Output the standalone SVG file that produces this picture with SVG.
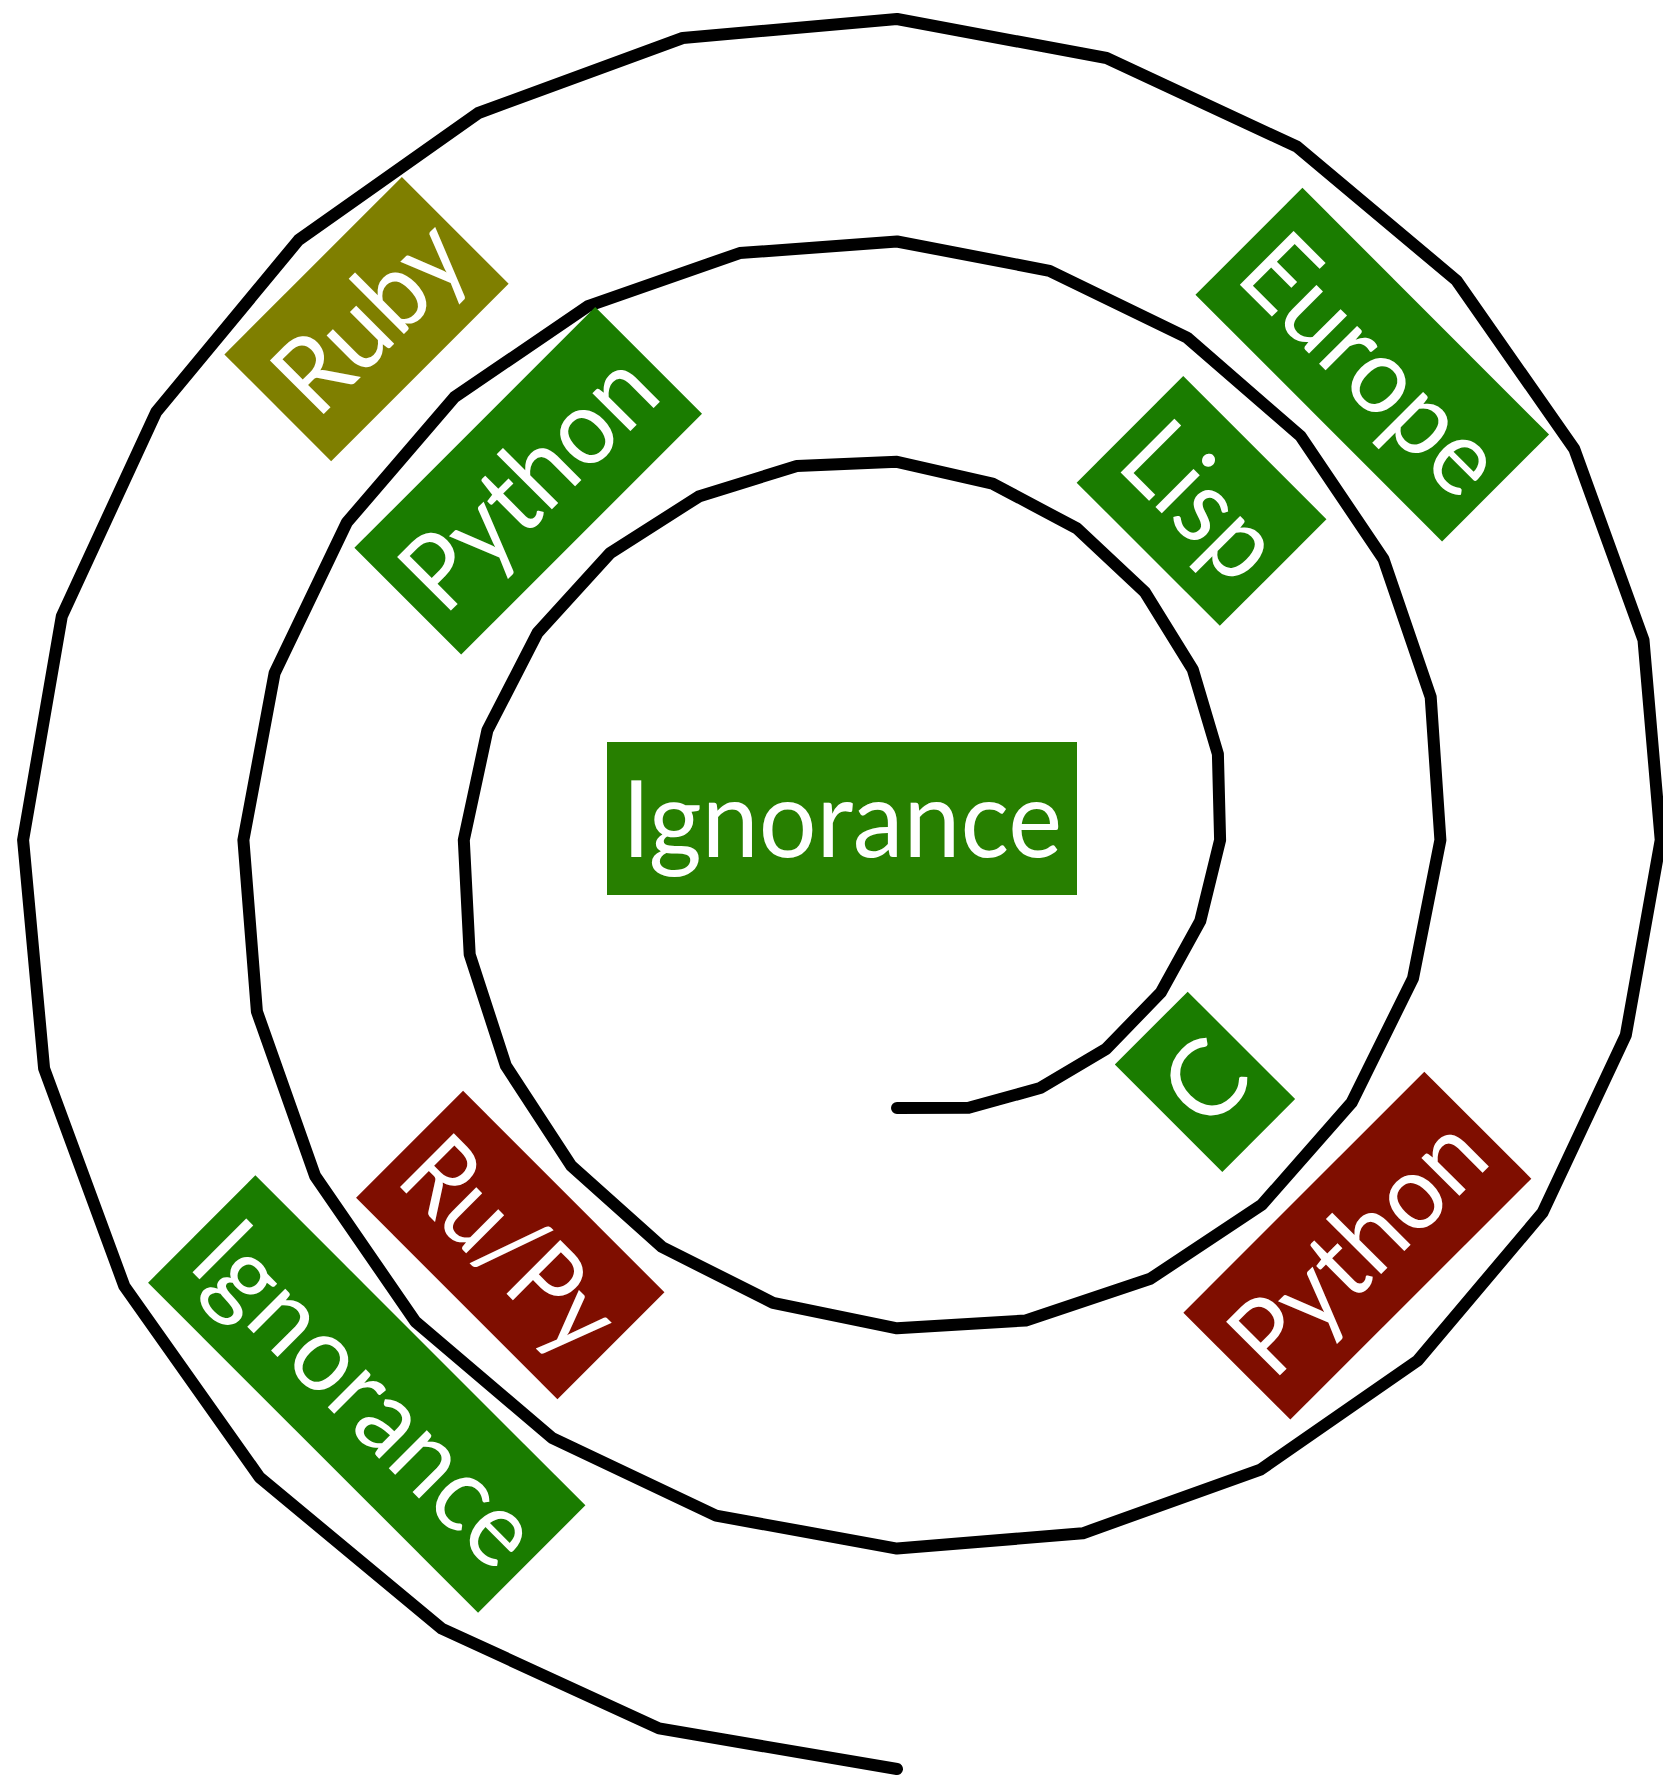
<svg xmlns="http://www.w3.org/2000/svg" width="1663" height="1778" viewBox="0 0 1663 1778">
<style>
.spiral{fill:none;stroke:#000;stroke-width:12;stroke-linejoin:round;stroke-linecap:round}
.lbl{fill:#fff;font-family:Lato,"Open Sans","Liberation Sans",sans-serif;font-size:106px;text-anchor:middle}
.g1{fill:#1a7c00}
.g2{fill:#277f00}
.ol{fill:#7f7f00}
.rd{fill:#7f0e00}
</style>
<rect width="1663" height="1778" fill="#fff"/>
<g id="connectors">
<polyline class="spiral" points="897,1108 968.7,1107.7 1040.2,1088 1106,1049 1160.9,992.4 1200.2,921.2 1220.1,840 1217.9,754 1192.7,669.3 1144.9,592.1 1076.9,528.4 992.5,483.6 897,461.8 796.8,465.9 698.7,496.6 610.1,553.1 537.7,632.6 487.4,730.3 463.8,840 469.7,954.5 505.9,1065.8 571.2,1165.8 662,1247 773,1302.8 897,1328.3 1025.8,1320.5 1150.3,1278.8 1261.8,1204.8 1351.7,1102.5 1413,978.3 1440.4,840 1430.7,697 1383.5,559.1 1300.7,436.3 1187.1,337.6 1049.5,270.8 897,241.5 739.7,253.1 588.6,305.8 454.3,397.3 346.9,522.4 274.6,673.2 243.4,840 256.9,1011.5 315.1,1176 415.4,1321.6 551.9,1437.8 716,1515.6 897,1548.6 1082.8,1533.3 1260.5,1469.6 1417.6,1360.6 1542.5,1212.7 1625.8,1035.3 1660.7,840 1643.5,640 1574.3,449 1456.5,280.5 1297.2,146.8 1106.5,58 897,19 682.7,38 478.4,113 298.6,240 156.1,412.2 61.8,616.2 23.1,840 44.1,1068.5 124.3,1286.1 259.6,1477.4 441.7,1628.6 659,1728.4 897,1769"/>
</g>
<g id="node-ignorance-center">
<rect class="g2" x="607" y="742" width="470" height="153"/>
<text class="lbl" x="842" y="856.5" textLength="440" lengthAdjust="spacingAndGlyphs">Ignorance</text>
</g>
<g id="node-ruby" transform="translate(366.5,319.1) rotate(-45)">
<rect class="ol" x="-125.5" y="-75.5" width="251" height="151"/>
<text class="lbl" x="4" y="37" textLength="221" lengthAdjust="spacingAndGlyphs">Ruby</text>
</g>
<g id="node-python-top" transform="translate(528.2,480.8) rotate(-45)">
<rect class="g1" x="-170.3" y="-75.5" width="340.6" height="151"/>
<text class="lbl" x="0" y="37" textLength="311" lengthAdjust="spacingAndGlyphs">Python</text>
</g>
<g id="node-europe" transform="translate(1372.3,364.6) rotate(45)">
<rect class="g1" x="-174.4" y="-75.6" width="348.8" height="151.3"/>
<text class="lbl" x="0" y="37" textLength="319" lengthAdjust="spacingAndGlyphs">Europe</text>
</g>
<g id="node-lisp" transform="translate(1201.5,500.9) rotate(45)">
<rect class="g1" x="-101.2" y="-75.4" width="202.5" height="150.8"/>
<text class="lbl" x="0" y="37" textLength="173" lengthAdjust="spacingAndGlyphs">Lisp</text>
</g>
<g id="node-c" transform="translate(1205,1081.8) rotate(-45)">
<rect class="g1" x="-51.5" y="-76" width="103" height="152"/>
<text class="lbl" x="0" y="37">C</text>
</g>
<g id="node-python-bottom" transform="translate(1357.3,1245.6) rotate(-45)">
<rect class="rd" x="-170.4" y="-75.6" width="340.8" height="151.3"/>
<text class="lbl" x="0" y="37" textLength="311" lengthAdjust="spacingAndGlyphs">Python</text>
</g>
<g id="node-rupy" transform="translate(510.3,1245) rotate(45)">
<rect class="rd" x="-142.4" y="-75.6" width="284.8" height="151.3"/>
<text class="lbl" x="0" y="37" textLength="255" lengthAdjust="spacingAndGlyphs">Ru/Py</text>
</g>
<g id="node-ignorance-bottom" transform="translate(366.7,1394) rotate(45)">
<rect class="g1" x="-233.3" y="-75.9" width="466.7" height="151.8"/>
<text class="lbl" x="0" y="37" textLength="437" lengthAdjust="spacingAndGlyphs">Ignorance</text>
</g>
</svg>
